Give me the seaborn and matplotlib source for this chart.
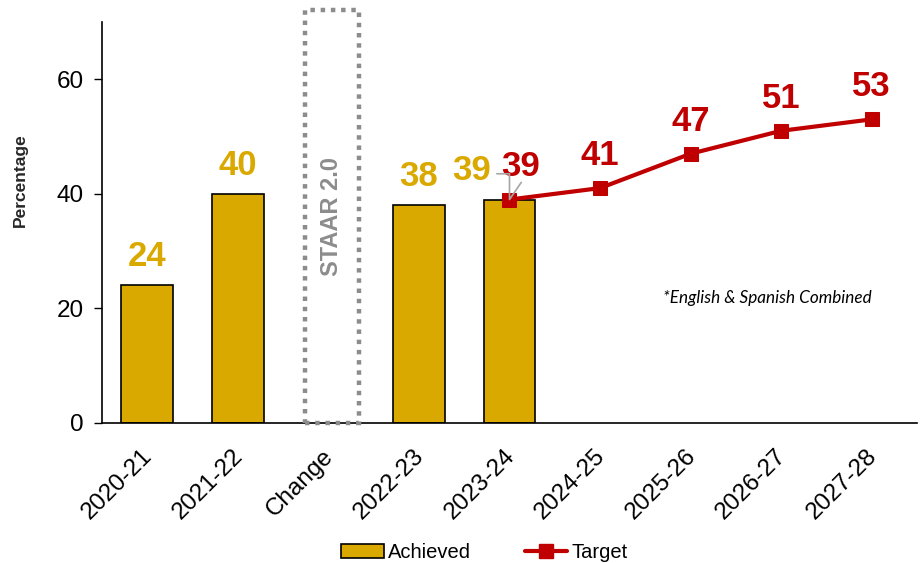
import numpy as np
import pandas as pd
import matplotlib
matplotlib.use("Agg")
import matplotlib.pyplot as plt
import matplotlib.transforms as mtransforms
import seaborn as sns
from matplotlib.patches import Patch
from matplotlib.lines import Line2D

# Reading performance data (percent)
years = ["2020-21", "2021-22", "Change", "2022-23", "2023-24",
         "2024-25", "2025-26", "2026-27", "2027-28"]
achieved = [24, 40, np.nan, 38, 39, np.nan, np.nan, np.nan, np.nan]
target = [np.nan, np.nan, np.nan, np.nan, 39, 41, 47, 51, 53]
change_label = "STAAR 2.0"
note = "*English & Spanish Combined"

GOLD = "#DAA900"
RED = "#C00000"
GREY = "#8C8C8C"

sns.set_theme(style="white")
plt.rcParams["font.family"] = ["Liberation Sans", "DejaVu Sans"]
plt.rcParams["text.color"] = "black"
plt.rcParams["xtick.color"] = "black"
plt.rcParams["ytick.color"] = "black"

df = pd.DataFrame({"year": years, "achieved": achieved, "target": target})
pos = {y: i for i, y in enumerate(years)}
df["x"] = df["year"].map(pos)

fig = plt.figure(figsize=(9.21, 5.63), dpi=100)
ax = fig.add_axes([0.1107, 0.2487, 0.8850, 0.7123])

sns.barplot(data=df, x="year", y="achieved", order=years, color=GOLD,
            width=0.57, edgecolor="black", linewidth=1.2, saturation=1,
            ax=ax)

# dotted placeholder column for the test change
ci = pos["Change"]
ax.bar(ci + 0.04, 72, width=0.6, bottom=0, facecolor="none",
       edgecolor=GREY, linewidth=3.2, linestyle=(0, (1, 1.3)),
       clip_on=False, zorder=3)
ax.text(ci + 0.04, 36, change_label, rotation=90, ha="center",
        va="center", color=GREY, fontsize=17, fontweight="bold")

tdf = df.dropna(subset=["target"])
sns.lineplot(data=tdf, x="x", y="target", color=RED, linewidth=3,
             marker="s", markersize=10.5, markeredgecolor=RED, ax=ax,
             zorder=5)

# value labels
for i, v in enumerate(achieved):
    if np.isnan(v):
        continue
    dx = -0.42 if not np.isnan(target[i]) else 0.0
    ax.text(i + dx, v + 5.0, f"{v:g}", ha="center", va="center",
            color=GOLD, fontsize=25, fontweight="bold")
for i, v in enumerate(target):
    if np.isnan(v):
        continue
    dx = 0.12 if not np.isnan(achieved[i]) else 0.0
    ax.text(i + dx, v + 5.7, f"{v:g}", ha="center", va="center",
            color=RED, fontsize=25, fontweight="bold")
    if not np.isnan(achieved[i]):
        ax.plot([i - 0.14, i, i, i + 0.13], [v + 4.5, v + 4.5, v, v + 3],
                color="#A6A6A6", linewidth=1.2, zorder=6)

ax.text(6.85, 21.8, note, ha="center", va="center", fontsize=12.3,
        style="italic", family=["Lato", "DejaVu Sans"], color="black")

ax.set_xlim(-0.5, len(years) - 0.5)
ax.set_ylim(0, 70)
ax.set_yticks([0, 20, 40, 60])
ax.set_xlabel("")
ax.set_ylabel("Percentage", fontsize=12.5, fontweight="bold")
ax.yaxis.set_label_coords(-0.091, 0.606)
ax.tick_params(axis="y", labelsize=17.5, length=6, width=1, color="black",
               left=True, pad=7)
ax.tick_params(axis="x", labelsize=17.5, length=0, pad=16)
shift = mtransforms.ScaledTranslation(-0.06, 0, fig.dpi_scale_trans)
for lab in ax.get_xticklabels():
    lab.set_rotation(45)
    lab.set_ha("right")
    lab.set_rotation_mode("anchor")
    lab.set_transform(lab.get_transform() + shift)
for s in ["top", "right"]:
    ax.spines[s].set_visible(False)
for s in ["left", "bottom"]:
    ax.spines[s].set_color("black")
    ax.spines[s].set_linewidth(1.2)

handles = [Patch(facecolor=GOLD, edgecolor="black", linewidth=1.2),
           Line2D([0], [0], color=RED, linewidth=3, marker="s",
                  markersize=10)]
fig.legend(handles, ["Achieved", "Target"], loc="center",
           bbox_to_anchor=(0.526, 0.018), ncol=2, frameon=False,
           fontsize=14.5, handlelength=2.1, columnspacing=2.7,
           handletextpad=0.2)

fig.savefig("out.png", dpi=100)
